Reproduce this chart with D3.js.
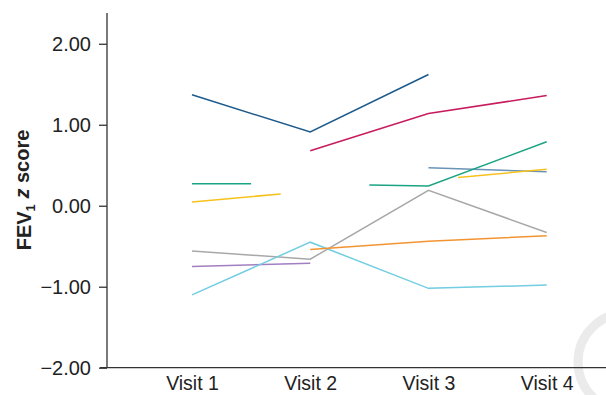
<!DOCTYPE html>
<html>
<head>
<meta charset="utf-8">
<script src="https://cdn.jsdelivr.net/npm/d3@7"></script>
<style>
  html, body { margin: 0; padding: 0; background: #fff; }
  svg { display: block; font-family: "Liberation Sans", Arial, Helvetica, sans-serif; }
</style>
</head>
<body>
<svg id="chart" width="606" height="395"></svg>
<script>
// Visit labels along the x axis and the z-score ticks on the y axis
const visits = ["Visit 1", "Visit 2", "Visit 3", "Visit 4"];
const yTicks = [-2, -1, 0, 1, 2];

// One trajectory per patient: [visit position, FEV1 z score]; null marks a break in the line
const navySeries    = [[1, 1.37], [2, 0.91], [3, 1.62]];
const crimsonSeries = [[2, 0.68], [3, 1.14], [4, 1.36]];
const tealSeries    = [[1, 0.27], [1.5, 0.27], null, [2.5, 0.255], [3, 0.245], [4, 0.79]];
const steelSeries   = [[3, 0.47], [4, 0.42]];
const yellowSeries  = [[1, 0.045], [1.75, 0.146], null, [3.25, 0.349], [4, 0.45]];
const graySeries    = [[1, -0.56], [2, -0.66], [3, 0.19], [4, -0.33]];
const orangeSeries  = [[2, -0.54], [3, -0.44], [4, -0.37]];
const purpleSeries  = [[1, -0.75], [2, -0.71]];
const cyanSeries    = [[1, -1.10], [2, -0.45], [3, -1.02], [4, -0.98]];

const series = [
  { points: graySeries,    color: "#a8a8a8" },
  { points: purpleSeries,  color: "#a27ec2" },
  { points: cyanSeries,    color: "#72cde2" },
  { points: orangeSeries,  color: "#f39433" },
  { points: steelSeries,   color: "#6a93b6" },
  { points: yellowSeries,  color: "#f7c21d" },
  { points: tealSeries,    color: "#1ba385" },
  { points: crimsonSeries, color: "#c81b5e" },
  { points: navySeries,    color: "#1c5a8c" }
];

const svg = d3.select("#chart");

const x = d3.scaleLinear().domain([1, 4]).range([192, 546.7]);
const y = d3.scaleLinear().domain([-2, 2.38]).range([367.7, 13]);

// faint ring in the lower-right corner
svg.append("circle")
  .attr("cx", 627).attr("cy", 362).attr("r", 49)
  .attr("fill", "none")
  .attr("stroke", "#ebebeb")
  .attr("stroke-width", 9);

// y axis
const yAxis = svg.append("g")
  .attr("transform", "translate(107,0)")
  .call(d3.axisLeft(y)
    .tickValues(yTicks)
    .tickSize(8)
    .tickPadding(8)
    .tickFormat(d3.format(".2f")));
yAxis.select(".domain").attr("stroke", "#333").attr("stroke-width", 1.3)
  .attr("d", `M0,${y(2.38)}V${y(-2)}`);
yAxis.selectAll(".tick line").attr("stroke", "#333").attr("stroke-width", 1.3);
yAxis.selectAll(".tick text")
  .attr("fill", "#222")
  .style("font-size", "20px")
  .style("font-family", "'Liberation Sans', Arial, sans-serif")
  .attr("dy", "0.35em");

// x axis
const xAxis = svg.append("g")
  .attr("transform", `translate(0,${y(-2)})`)
  .call(d3.axisBottom(x)
    .tickValues([1, 2, 3, 4])
    .tickSize(0)
    .tickPadding(8)
    .tickFormat((d, i) => visits[i]));
xAxis.select(".domain").attr("stroke", "#333").attr("stroke-width", 1.3)
  .attr("d", "M100,0H606");
xAxis.selectAll(".tick text")
  .attr("fill", "#222")
  .style("font-size", "19.5px")
  .style("font-family", "'Liberation Sans', Arial, sans-serif");

// y axis title
const title = svg.append("text")
  .attr("transform", "translate(31,190) rotate(-90)")
  .attr("text-anchor", "middle")
  .attr("fill", "#222")
  .style("font-size", "20px")
  .style("font-weight", "bold");
title.append("tspan").text("FEV");
title.append("tspan").text("1").attr("dy", "0.3em").style("font-size", "13px");
title.append("tspan").text(" ").attr("dy", "-0.3em");
title.append("tspan").text("z").style("font-style", "italic");
title.append("tspan").text(" score");

// patient trajectories
const line = d3.line()
  .defined(d => d !== null)
  .x(d => x(d[0]))
  .y(d => y(d[1]));

svg.append("g")
  .selectAll("path")
  .data(series)
  .join("path")
  .attr("d", d => line(d.points))
  .attr("fill", "none")
  .attr("stroke", d => d.color)
  .attr("stroke-width", 1.5);
</script>
</body>
</html>
